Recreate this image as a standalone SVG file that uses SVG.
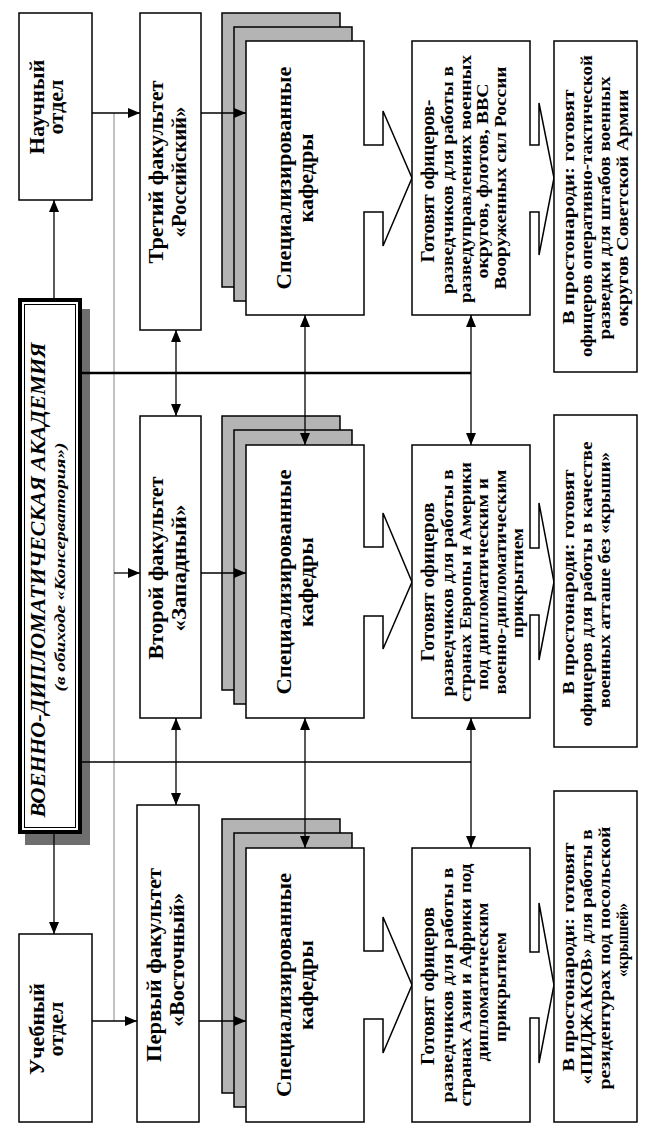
<svg xmlns="http://www.w3.org/2000/svg" width="649" height="1146" viewBox="0 0 649 1146">
<style>
.box{fill:#fff;stroke:#000;stroke-width:1.5}
.gray{fill:#b4b4b4;stroke:#000;stroke-width:1.5}
.t{font-family:"Liberation Serif","Times New Roman",serif;font-weight:bold;text-anchor:middle;fill:#000}
.c{stroke:#000;stroke-width:1.3;fill:none}
</style>
<defs>
<marker id="ah" viewBox="0 0 12 10" refX="12" refY="5" markerWidth="12" markerHeight="10" markerUnits="userSpaceOnUse" orient="auto-start-reverse"><path d="M0,0 L12,5 L0,10 Z" fill="#000"/></marker>
</defs>
<rect width="649" height="1146" fill="#fff"/>

<g id="academy">
<rect x="25" y="309" width="65" height="536" fill="#6e6e6e"/>
<rect x="20" y="300" width="60" height="532" fill="#fff" stroke="#000" stroke-width="4"/>
<rect x="24.5" y="304.5" width="51" height="523" fill="none" stroke="#000" stroke-width="1"/>
<text class="t" font-size="20" font-style="italic" transform="translate(45,580) rotate(-90)" textLength="475" lengthAdjust="spacingAndGlyphs">ВОЕННО-ДИПЛОМАТИЧЕСКАЯ АКАДЕМИЯ</text>
<text class="t" font-size="14" font-style="italic" transform="translate(65,567) rotate(-90)" textLength="249" lengthAdjust="spacingAndGlyphs">(в обиходе «Консерватория»)</text>
</g>

<g id="nauchny">
<rect class="box" x="19" y="13" width="73" height="187"/>
<text class="t" font-size="21" transform="translate(43.5,107) rotate(-90)" textLength="95" lengthAdjust="spacingAndGlyphs">Научный</text>
<text class="t" font-size="21" transform="translate(62.5,107) rotate(-90)" textLength="55" lengthAdjust="spacingAndGlyphs">отдел</text>
</g>

<g id="uchebny">
<rect class="box" x="19" y="934" width="73" height="188"/>
<text class="t" font-size="21" transform="translate(43.5,1029) rotate(-90)" textLength="92" lengthAdjust="spacingAndGlyphs">Учебный</text>
<text class="t" font-size="21" transform="translate(62.5,1029) rotate(-90)" textLength="55" lengthAdjust="spacingAndGlyphs">отдел</text>
</g>

<g id="fak3">
<rect class="box" x="140" y="13" width="61" height="317"/>
<text class="t" font-size="20" transform="translate(162.5,172) rotate(-90)" textLength="183" lengthAdjust="spacingAndGlyphs">Третий факультет</text>
<text class="t" font-size="20" transform="translate(185.5,172) rotate(-90)" textLength="131" lengthAdjust="spacingAndGlyphs">«Российский»</text>
</g>

<g id="fak2">
<rect class="box" x="140" y="416" width="61" height="302"/>
<text class="t" font-size="20" transform="translate(162.5,568) rotate(-90)" textLength="183" lengthAdjust="spacingAndGlyphs">Второй факультет</text>
<text class="t" font-size="20" transform="translate(185.5,568) rotate(-90)" textLength="127" lengthAdjust="spacingAndGlyphs">«Западный»</text>
</g>

<g id="fak1">
<rect class="box" x="137" y="805" width="62" height="317"/>
<text class="t" font-size="20" transform="translate(160.5,965) rotate(-90)" textLength="194" lengthAdjust="spacingAndGlyphs">Первый факультет</text>
<text class="t" font-size="20" transform="translate(183.5,960) rotate(-90)" textLength="134" lengthAdjust="spacingAndGlyphs">«Восточный»</text>
</g>

<g id="kaf3">
<rect class="gray" x="222" y="13" width="118" height="274"/>
<rect class="gray" x="234" y="27" width="118" height="274"/>
<path class="box" d="M246,41 H364 V145 H383 V111 L412,178 L383,246 V212 H364 V315 H246 Z"/>
<text class="t" font-size="20" transform="translate(290.5,178) rotate(-90)" textLength="223" lengthAdjust="spacingAndGlyphs">Специализированные</text>
<text class="t" font-size="20" transform="translate(312.5,178) rotate(-90)" textLength="89" lengthAdjust="spacingAndGlyphs">кафедры</text>
</g>

<g id="kaf2">
<rect class="gray" x="222" y="416" width="118" height="274"/>
<rect class="gray" x="234" y="430" width="118" height="274"/>
<path class="box" d="M246,445 H364 V547 H383 V513 L412,582 L383,649 V616 H364 V718 H246 Z"/>
<text class="t" font-size="20" transform="translate(290.5,582) rotate(-90)" textLength="225" lengthAdjust="spacingAndGlyphs">Специализированные</text>
<text class="t" font-size="20" transform="translate(312.5,582) rotate(-90)" textLength="90" lengthAdjust="spacingAndGlyphs">кафедры</text>
</g>

<g id="kaf1">
<rect class="gray" x="222" y="819" width="118" height="274"/>
<rect class="gray" x="234" y="833" width="118" height="274"/>
<path class="box" d="M246,848 H364 V951 H383 V917 L412,985 L383,1053 V1019 H364 V1122 H246 Z"/>
<text class="t" font-size="20" transform="translate(290.5,985) rotate(-90)" textLength="224" lengthAdjust="spacingAndGlyphs">Специализированные</text>
<text class="t" font-size="20" transform="translate(312.5,985) rotate(-90)" textLength="90" lengthAdjust="spacingAndGlyphs">кафедры</text>
</g>

<g id="gotovyat3">
<path class="box" d="M412,41 H530 V145 H539 V103 L554,178 L539,255 V212 H530 V315 H412 Z"/>
<text class="t" font-size="19" transform="translate(433.5,181) rotate(-90)" textLength="163" lengthAdjust="spacingAndGlyphs">Готовят офицеров-</text>
<text class="t" font-size="17" transform="translate(453,180) rotate(-90)" textLength="228" lengthAdjust="spacingAndGlyphs">разведчиков для работы в</text>
<text class="t" font-size="17" transform="translate(470.5,179) rotate(-90)" textLength="248" lengthAdjust="spacingAndGlyphs">разведуправлениях военных</text>
<text class="t" font-size="17" transform="translate(488,181) rotate(-90)" textLength="195" lengthAdjust="spacingAndGlyphs">округов, флотов, ВВС</text>
<text class="t" font-size="17" transform="translate(505.5,178) rotate(-90)" textLength="223" lengthAdjust="spacingAndGlyphs">Вооруженных сил России</text>
</g>

<g id="gotovyat2">
<path class="box" d="M412,445 H530 V548 H539 V503 L554,582 L539,660 V615 H530 V718 H412 Z"/>
<text class="t" font-size="19" transform="translate(433.5,582) rotate(-90)" textLength="159" lengthAdjust="spacingAndGlyphs">Готовят офицеров</text>
<text class="t" font-size="17" transform="translate(453,583) rotate(-90)" textLength="227" lengthAdjust="spacingAndGlyphs">разведчиков для работы в</text>
<text class="t" font-size="17" transform="translate(470.5,582) rotate(-90)" textLength="240" lengthAdjust="spacingAndGlyphs">странах Европы и Америки</text>
<text class="t" font-size="17" transform="translate(488,584) rotate(-90)" textLength="212" lengthAdjust="spacingAndGlyphs">под дипломатическим и</text>
<text class="t" font-size="17" transform="translate(505.5,582) rotate(-90)" textLength="225" lengthAdjust="spacingAndGlyphs">военно-дипломатическим</text>
<text class="t" font-size="17" transform="translate(523,583) rotate(-90)" textLength="110" lengthAdjust="spacingAndGlyphs">прикрытием</text>
</g>

<g id="gotovyat1">
<path class="box" d="M412,848 H530 V952 H539 V903 L554,985 L539,1063 V1018 H530 V1122 H412 Z"/>
<text class="t" font-size="19" transform="translate(433.5,986) rotate(-90)" textLength="158" lengthAdjust="spacingAndGlyphs">Готовят офицеров</text>
<text class="t" font-size="17" transform="translate(453,985) rotate(-90)" textLength="235" lengthAdjust="spacingAndGlyphs">разведчиков для работы в</text>
<text class="t" font-size="17" transform="translate(470.5,985) rotate(-90)" textLength="243" lengthAdjust="spacingAndGlyphs">странах Азии и Африки под</text>
<text class="t" font-size="17" transform="translate(488,982) rotate(-90)" textLength="159" lengthAdjust="spacingAndGlyphs">дипломатическим</text>
<text class="t" font-size="17" transform="translate(505.5,987) rotate(-90)" textLength="110" lengthAdjust="spacingAndGlyphs">прикрытием</text>
</g>

<g id="prostonarod3">
<rect class="box" x="554" y="41" width="83" height="331"/>
<text class="t" font-size="17" transform="translate(573.5,207) rotate(-90)" textLength="235" lengthAdjust="spacingAndGlyphs">В простонароди: готовят</text>
<text class="t" font-size="17" transform="translate(591.5,206) rotate(-90)" textLength="302" lengthAdjust="spacingAndGlyphs">офицеров оперативно-тактической</text>
<text class="t" font-size="17" transform="translate(609.5,208) rotate(-90)" textLength="263" lengthAdjust="spacingAndGlyphs">разведки для штабов военных</text>
<text class="t" font-size="17" transform="translate(627.5,208) rotate(-90)" textLength="237" lengthAdjust="spacingAndGlyphs">округов Советской Армии</text>
</g>

<g id="prostonarod2">
<rect class="box" x="554" y="415" width="83" height="332"/>
<text class="t" font-size="17" transform="translate(573.5,582) rotate(-90)" textLength="225" lengthAdjust="spacingAndGlyphs">В простонароди: готовят</text>
<text class="t" font-size="17" transform="translate(591.5,584) rotate(-90)" textLength="285" lengthAdjust="spacingAndGlyphs">офицеров для работы в качестве</text>
<text class="t" font-size="17" transform="translate(609.5,580) rotate(-90)" textLength="256" lengthAdjust="spacingAndGlyphs">военных атташе без «крыши»</text>
</g>

<g id="prostonarod1">
<rect class="box" x="554" y="791" width="83" height="331"/>
<text class="t" font-size="17" transform="translate(573.5,957) rotate(-90)" textLength="229" lengthAdjust="spacingAndGlyphs">В простонароди: готовят</text>
<text class="t" font-size="17" transform="translate(591.5,957) rotate(-90)" textLength="255" lengthAdjust="spacingAndGlyphs">«ПИДЖАКОВ» для работы в</text>
<text class="t" font-size="17" transform="translate(609.5,958) rotate(-90)" textLength="263" lengthAdjust="spacingAndGlyphs">резидентурах под посольской</text>
<text class="t" font-size="17" transform="translate(627.5,940) rotate(-90)" textLength="74" lengthAdjust="spacingAndGlyphs">«крышей»</text>
</g>

<g id="connectors">
<path d="M114,113 V1021" stroke="#999" stroke-width="1.2" fill="none"/>
<path class="c" d="M54,298 V200" marker-end="url(#ah)"/>
<path class="c" d="M54,834 V934" marker-end="url(#ah)"/>
<path d="M82,373 H471" stroke="#000" stroke-width="2.6" fill="none"/>
<path d="M82,762 H471" stroke="#000" stroke-width="1.6" fill="none"/>
<path class="c" d="M92,113 H140" marker-end="url(#ah)"/>
<path class="c" d="M201,113 H246" marker-end="url(#ah)"/>
<path class="c" d="M114,573 H140" marker-end="url(#ah)"/>
<path class="c" d="M201,573 H246" marker-end="url(#ah)"/>
<path class="c" d="M92,1021 H137" marker-end="url(#ah)"/>
<path class="c" d="M199,1021 H246" marker-end="url(#ah)"/>
<path class="c" d="M176,330 V416" marker-start="url(#ah)" marker-end="url(#ah)"/>
<path class="c" d="M305,315 V445" marker-start="url(#ah)" marker-end="url(#ah)"/>
<path class="c" d="M471,315 V445" marker-start="url(#ah)" marker-end="url(#ah)"/>
<path class="c" d="M176,718 V805" marker-start="url(#ah)" marker-end="url(#ah)"/>
<path class="c" d="M305,718 V848" marker-start="url(#ah)" marker-end="url(#ah)"/>
<path class="c" d="M471,718 V848" marker-start="url(#ah)" marker-end="url(#ah)"/>
</g>
</svg>
